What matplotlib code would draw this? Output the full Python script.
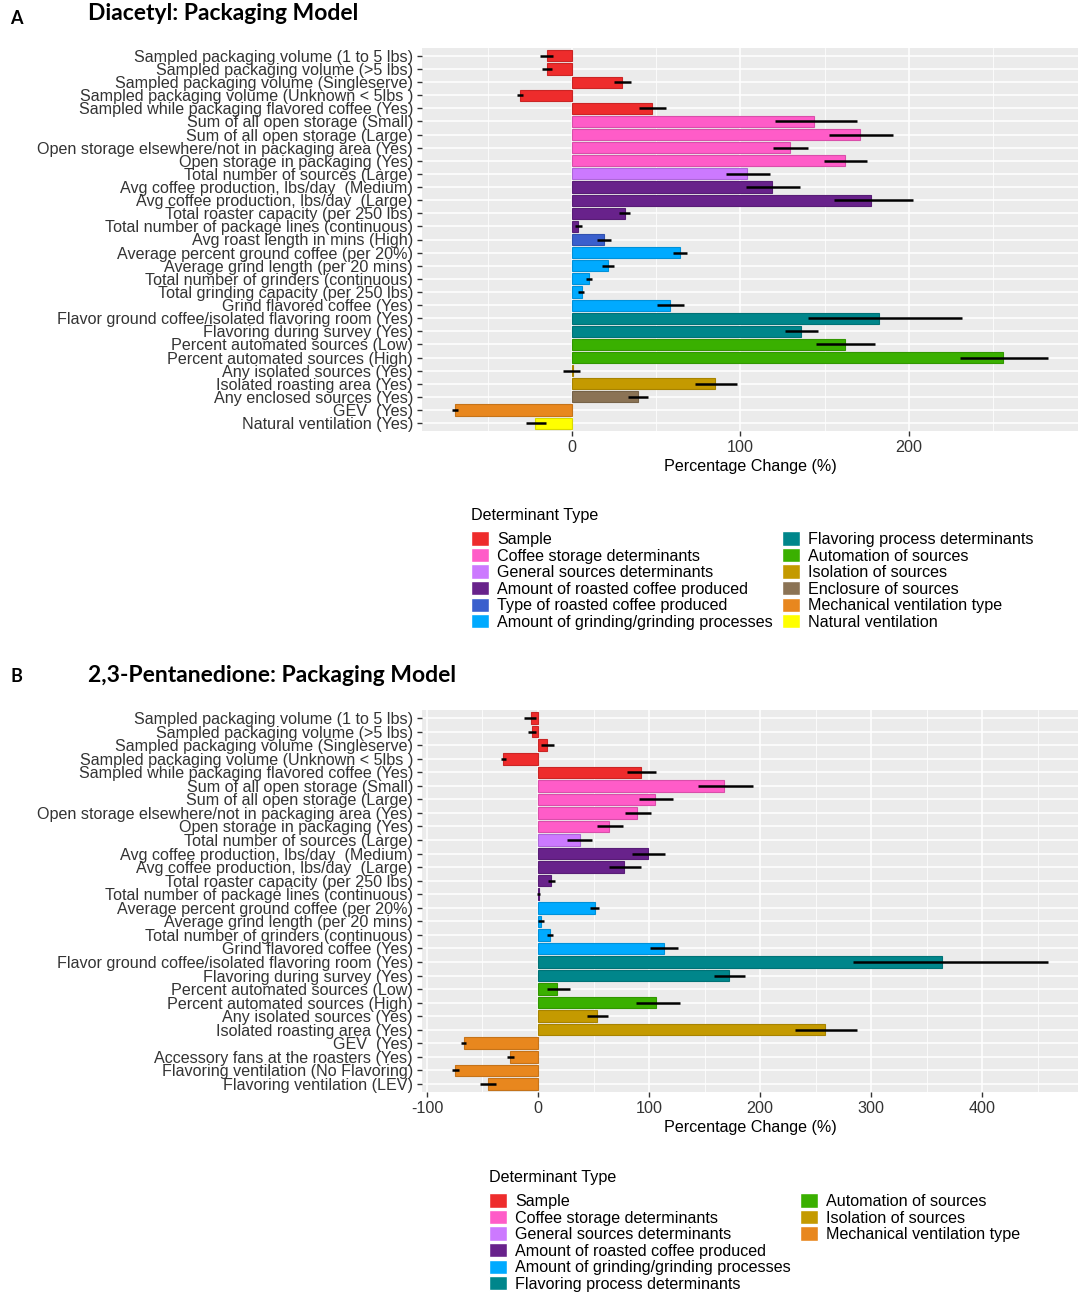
import numpy as np
import matplotlib
matplotlib.use("Agg")
import matplotlib.pyplot as plt
from matplotlib.patches import Patch
from matplotlib.colors import to_rgb

plt.rcParams['font.family'] = ['Liberation Sans', 'DejaVu Sans']

# colour per determinant type
type_colors = {
    'Sample': '#EE2C2C',
    'Coffee storage determinants': '#FF5CC8',
    'General sources determinants': '#CC79FF',
    'Amount of roasted coffee produced': '#68228B',
    'Type of roasted coffee produced': '#3A5FCD',
    'Amount of grinding/grinding processes': '#00AAFF',
    'Flavoring process determinants': '#00868B',
    'Automation of sources': '#3AB000',
    'Isolation of sources': '#C49A00',
    'Enclosure of sources': '#8B7355',
    'Mechanical ventilation type': '#E8871E',
    'Natural ventilation': '#FFFF00',
}

# ---- Panel A: Diacetyl ----
labels_a = [
    'Sampled packaging volume (1 to 5 lbs)',
    'Sampled packaging volume (>5 lbs)',
    'Sampled packaging volume (Singleserve)',
    'Sampled packaging volume (Unknown < 5lbs )',
    'Sampled while packaging flavored coffee (Yes)',
    'Sum of all open storage (Small)',
    'Sum of all open storage (Large)',
    'Open storage elsewhere/not in packaging area (Yes)',
    'Open storage in packaging (Yes)',
    'Total number of sources (Large)',
    'Avg coffee production, lbs/day  (Medium)',
    'Avg coffee production, lbs/day  (Large)',
    'Total roaster capacity (per 250 lbs)',
    'Total number of package lines (continuous)',
    'Avg roast length in mins (High)',
    'Average percent ground coffee (per 20%)',
    'Average grind length (per 20 mins)',
    'Total number of grinders (continuous)',
    'Total grinding capacity (per 250 lbs)',
    'Grind flavored coffee (Yes)',
    'Flavor ground coffee/isolated flavoring room (Yes)',
    'Flavoring during survey (Yes)',
    'Percent automated sources (Low)',
    'Percent automated sources (High)',
    'Any isolated sources (Yes)',
    'Isolated roasting area (Yes)',
    'Any enclosed sources (Yes)',
    'GEV  (Yes)',
    'Natural ventilation (Yes)',
]
types_a = (['Sample'] * 5 + ['Coffee storage determinants'] * 4
           + ['General sources determinants']
           + ['Amount of roasted coffee produced'] * 4
           + ['Type of roasted coffee produced']
           + ['Amount of grinding/grinding processes'] * 5
           + ['Flavoring process determinants'] * 2
           + ['Automation of sources'] * 2
           + ['Isolation of sources'] * 2
           + ['Enclosure of sources', 'Mechanical ventilation type', 'Natural ventilation'])
pct_a = [-15.1, -15.0, 29.7, -30.7, 47.4, 143.8, 170.8, 129.5, 162.0, 103.8,
         118.6, 177.3, 31.2, 3.8, 18.9, 64.2, 21.2, 10.1, 5.8, 58.4,
         182.4, 136.0, 162.0, 255.7, 0.4, 85.1, 39.0, -69.5, -21.9]
lo_a = [-18.9, -17.9, 24.7, -32.7, 39.8, 120.4, 152.4, 119.4, 149.4, 91.4,
        103.3, 155.4, 27.7, 2.0, 15.1, 60.2, 17.6, 8.6, 3.5, 50.6,
        140.0, 126.7, 145.0, 230.0, -5.3, 73.0, 33.2, -71.3, -27.2]
hi_a = [-11.1, -12.1, 35.3, -29.0, 55.9, 169.3, 190.4, 140.3, 175.0, 117.6,
        135.5, 202.3, 34.5, 5.8, 23.2, 68.5, 24.7, 12.1, 7.3, 66.5,
        231.7, 145.8, 179.8, 282.6, 4.8, 98.2, 45.1, -67.5, -15.6]

# ---- Panel B: 2,3-Pentanedione ----
labels_b = [
    'Sampled packaging volume (1 to 5 lbs)',
    'Sampled packaging volume (>5 lbs)',
    'Sampled packaging volume (Singleserve)',
    'Sampled packaging volume (Unknown < 5lbs )',
    'Sampled while packaging flavored coffee (Yes)',
    'Sum of all open storage (Small)',
    'Sum of all open storage (Large)',
    'Open storage elsewhere/not in packaging area (Yes)',
    'Open storage in packaging (Yes)',
    'Total number of sources (Large)',
    'Avg coffee production, lbs/day  (Medium)',
    'Avg coffee production, lbs/day  (Large)',
    'Total roaster capacity (per 250 lbs)',
    'Total number of package lines (continuous)',
    'Average percent ground coffee (per 20%)',
    'Average grind length (per 20 mins)',
    'Total number of grinders (continuous)',
    'Grind flavored coffee (Yes)',
    'Flavor ground coffee/isolated flavoring room (Yes)',
    'Flavoring during survey (Yes)',
    'Percent automated sources (Low)',
    'Percent automated sources (High)',
    'Any isolated sources (Yes)',
    'Isolated roasting area (Yes)',
    'GEV  (Yes)',
    'Accessory fans at the roasters (Yes)',
    'Flavoring ventilation (No Flavoring)',
    'Flavoring ventilation (LEV)',
]
types_b = (['Sample'] * 5 + ['Coffee storage determinants'] * 4
           + ['General sources determinants']
           + ['Amount of roasted coffee produced'] * 4
           + ['Amount of grinding/grinding processes'] * 4
           + ['Flavoring process determinants'] * 2
           + ['Automation of sources'] * 2
           + ['Isolation of sources'] * 2
           + ['Mechanical ventilation type'] * 4)
pct_b = [-6.7, -5.1, 8.3, -31.5, 92.9, 167.3, 105.5, 89.4, 63.8, 37.4,
         99.2, 77.6, 11.4, 0.5, 51.2, 3.1, 10.6, 113.4, 364.2, 171.7,
         16.9, 106.7, 53.1, 258.3, -66.9, -25.6, -74.4, -44.9]
lo_b = [-12.6, -9.4, 3.1, -33.5, 79.9, 143.7, 90.6, 78.3, 53.1, 26.0,
        84.3, 63.8, 9.1, -1.2, 47.2, 0.4, 8.3, 101.2, 283.5, 158.7,
        7.9, 88.2, 44.5, 231.1, -69.3, -28.3, -77.6, -52.4]
hi_b = [-1.6, -1.6, 14.2, -29.1, 106.7, 193.3, 121.7, 101.6, 76.4, 48.8,
        114.6, 92.5, 15.7, 2.0, 55.1, 5.5, 13.4, 126.0, 459.4, 186.2,
        28.7, 127.6, 62.6, 287.4, -64.6, -21.7, -70.9, -37.8]

legend_a = list(type_colors.keys())
legend_b = ['Sample', 'Coffee storage determinants', 'General sources determinants',
            'Amount of roasted coffee produced', 'Amount of grinding/grinding processes',
            'Flavoring process determinants', 'Automation of sources',
            'Isolation of sources', 'Mechanical ventilation type']

FS = 11.6


def darker(c, f=0.85):
    r, g, b = to_rgb(c)
    return (r * f, g * f, b * f)


def draw_panel(ax, labels, types, vals, lo, hi, xticks):
    n = len(labels)
    y = np.arange(n)
    cols = [type_colors[t] for t in types]
    ax.set_facecolor('#EBEBEB')
    ax.barh(y, vals, height=0.85, color=cols,
            edgecolor=[darker(c) for c in cols], linewidth=0.8, zorder=3)
    ax.hlines(y, lo, hi, color='black', linewidth=1.8, zorder=4)
    ax.set_yticks(y)
    ax.set_yticklabels(labels, fontsize=FS, color='#333333')
    step = xticks[1] - xticks[0]
    ax.set_xticks(xticks)
    ax.set_xticklabels([str(t) for t in xticks], fontsize=FS, color='#333333')
    ax.set_xticks([t - step / 2 for t in xticks] + [xticks[-1] + step / 2], minor=True)
    # limits after ticks (set_xticks may widen the view)
    lo_all = min(min(lo), min(vals), 0)
    hi_all = max(max(hi), max(vals))
    pad = (hi_all - lo_all) * 0.05
    ax.set_xlim(lo_all - pad, hi_all + pad)
    ax.set_ylim(n - 0.4, -0.6)
    ax.grid(which='major', color='white', linewidth=1.1, zorder=0)
    ax.grid(which='minor', axis='x', color='white', linewidth=0.55, zorder=0)
    ax.set_axisbelow(True)
    ax.tick_params(which='major', length=3.5, width=1, color='#333333', pad=3)
    ax.tick_params(which='minor', length=0)
    for s in ax.spines.values():
        s.set_visible(False)
    ax.set_xlabel('Percentage Change (%)', fontsize=FS, color='black', labelpad=3)


fig = plt.figure(figsize=(10.84, 13.08), dpi=100)

ax_a = fig.add_axes([422 / 1084, 1 - 431 / 1308, 656 / 1084, 383 / 1308])
draw_panel(ax_a, labels_a, types_a, pct_a, lo_a, hi_a, [0, 100, 200])

ax_b = fig.add_axes([422 / 1084, 1 - 1092 / 1308, 656 / 1084, 382 / 1308])
draw_panel(ax_b, labels_b, types_b, pct_b, lo_b, hi_b, [-100, 0, 100, 200, 300, 400])

title_font = ['Lato', 'DejaVu Sans']
fig.text(10 / 1084, 1 - 18 / 1308, 'A', fontsize=13, fontweight='bold', va='center', family=title_font)
fig.text(88 / 1084, 1 - 14 / 1308, 'Diacetyl: Packaging Model', fontsize=16.5, fontweight='bold',
         va='center', family=title_font)
fig.text(10 / 1084, 1 - 676 / 1308, 'B', fontsize=13, fontweight='bold', va='center', family=title_font)
fig.text(88 / 1084, 1 - 675 / 1308, '2,3-Pentanedione: Packaging Model', fontsize=16.5, fontweight='bold',
         va='center', family=title_font)


def add_legend(names, anchor):
    handles = [Patch(facecolor=type_colors[nm], edgecolor='white', label=nm) for nm in names]
    labs = list(names)
    while len(handles) < 12:
        handles.append(Patch(facecolor='none', edgecolor='none'))
        labs.append('')
    leg = fig.legend(handles, labs, loc='upper left', bbox_to_anchor=anchor, ncol=2,
                     frameon=False, fontsize=FS, title='Determinant Type', title_fontsize=FS,
                     alignment='left', borderpad=0, handlelength=1.1, handleheight=1.0,
                     handletextpad=0.5, labelspacing=0.05, columnspacing=0.6)
    leg._legend_box.sep = 6
    return leg


add_legend(legend_a, (463 / 1084, 1 - 500 / 1308))
add_legend(legend_b, (481 / 1084, 1 - 1162 / 1308))

fig.savefig('out.png', dpi=100)
